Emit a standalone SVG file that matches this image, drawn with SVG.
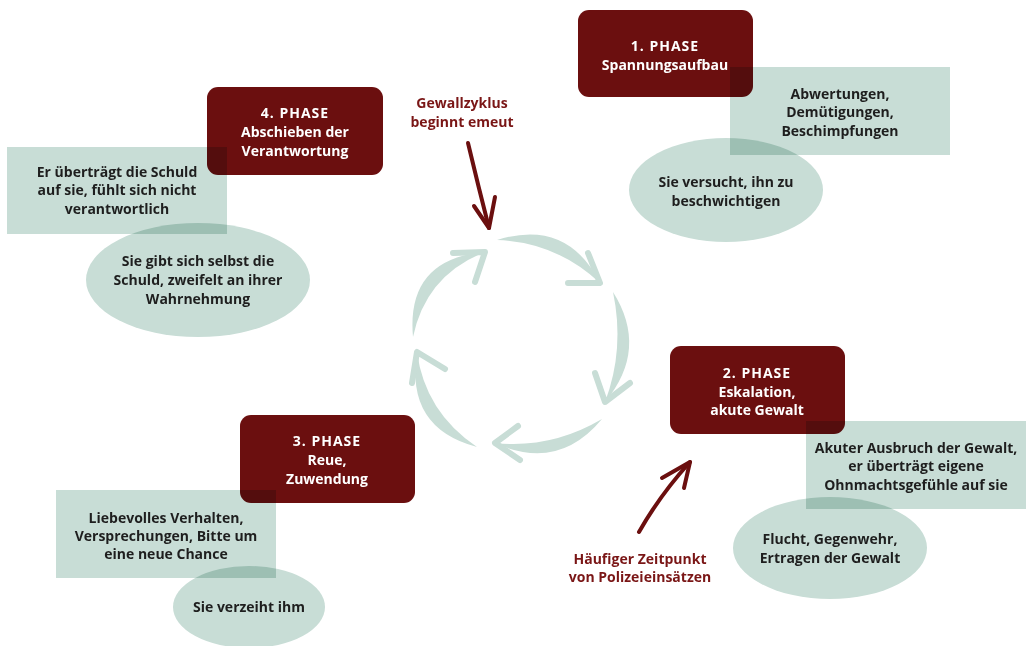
<svg xmlns="http://www.w3.org/2000/svg" width="1031" height="646" viewBox="0 0 1031 646">
<style>
.phase{fill:#6b0f0f}
.ptxt{font-family:"Open Sans","Liberation Sans",sans-serif;font-weight:700;font-size:14px;fill:#ffffff;text-anchor:middle}
.ph{letter-spacing:1px}
.g{fill:#c8ddd6;mix-blend-mode:multiply}
.t{font-family:"Open Sans","Liberation Sans",sans-serif;font-weight:700;font-size:14px;fill:#1e1e1e;text-anchor:middle}
.lbl{font-family:"Open Sans","Liberation Sans",sans-serif;font-weight:700;font-size:14px;fill:#7a1616;text-anchor:middle}
.arc{fill:#c8ddd6}
.head{fill:none;stroke:#c8ddd6;stroke-width:6;stroke-linecap:round;stroke-linejoin:round}
.red{fill:none;stroke:#6b0f0f;stroke-width:4;stroke-linecap:round;stroke-linejoin:round}
</style>
<rect width="1031" height="646" fill="#ffffff"/>

<g id="connectors">
  <path class="arc" d="M497,240 Q567,218 600,283 Q556,242 497,240 Z"/>
  <path class="head" d="M588,253 L600,283 L568,283"/>
  <path class="arc" d="M613,292 Q649,349 605,402 Q625,349 613,292 Z"/>
  <path class="head" d="M595,373 L605,402 L630,383"/>
  <path class="arc" d="M602,419 Q558,472 495,443 Q551,449 602,419 Z"/>
  <path class="head" d="M518,426 L495,443 L520,460"/>
  <path class="arc" d="M477,447 Q405,428 417,352 Q425,412 477,447 Z"/>
  <path class="head" d="M445,369 L417,352 L412,383"/>
  <path class="arc" d="M413,337 Q406,259 485,252 Q426,275 413,337 Z"/>
  <path class="head" d="M453,253 L485,252 L475,282"/>
  <path class="red" d="M468,143 Q478,185 489,228"/>
  <path class="red" d="M474,206 L489,228 L495,197"/>
  <path class="red" d="M639,532 Q660,495 690,462"/>
  <path class="red" d="M662,478 L690,462 L684,488"/>
</g>

<g id="phase1">
  <rect class="phase" x="578" y="10" width="175" height="87" rx="11"/>
  <text class="ptxt ph" x="665" y="51">1. PHASE</text>
  <text class="ptxt" x="665" y="70">Spannungsaufbau</text>
</g>
<g id="note1">
  <rect class="g" x="730" y="67" width="220" height="88"/>
  <text class="t" x="840" y="99">Abwertungen,</text>
  <text class="t" x="840" y="117">Demütigungen,</text>
  <text class="t" x="840" y="136">Beschimpfungen</text>
</g>
<g id="react1">
  <ellipse class="g" cx="726" cy="190" rx="97" ry="52"/>
  <text class="t" x="726" y="187">Sie versucht, ihn zu</text>
  <text class="t" x="726" y="206">beschwichtigen</text>
</g>

<g id="phase2">
  <rect class="phase" x="670" y="346" width="175" height="88" rx="11"/>
  <text class="ptxt ph" x="757" y="378">2. PHASE</text>
  <text class="ptxt" x="757" y="397">Eskalation,</text>
  <text class="ptxt" x="757" y="415">akute Gewalt</text>
</g>
<g id="note2">
  <rect class="g" x="806" y="421" width="220" height="88"/>
  <text class="t" x="916" y="453">Akuter Ausbruch der Gewalt,</text>
  <text class="t" x="916" y="471">er überträgt eigene</text>
  <text class="t" x="916" y="490">Ohnmachtsgefühle auf sie</text>
</g>
<g id="react2">
  <ellipse class="g" cx="830" cy="548" rx="97" ry="51"/>
  <text class="t" x="830" y="544">Flucht, Gegenwehr,</text>
  <text class="t" x="830" y="563">Ertragen der Gewalt</text>
</g>

<g id="phase3">
  <rect class="phase" x="240" y="415" width="175" height="88" rx="11"/>
  <text class="ptxt ph" x="327" y="446">3. PHASE</text>
  <text class="ptxt" x="327" y="465">Reue,</text>
  <text class="ptxt" x="327" y="484">Zuwendung</text>
</g>
<g id="note3">
  <rect class="g" x="56" y="490" width="220" height="88"/>
  <text class="t" x="166" y="523">Liebevolles Verhalten,</text>
  <text class="t" x="166" y="541">Versprechungen, Bitte um</text>
  <text class="t" x="166" y="559">eine neue Chance</text>
</g>
<g id="react3">
  <ellipse class="g" cx="249" cy="607" rx="76" ry="41"/>
  <text class="t" x="249" y="612">Sie verzeiht ihm</text>
</g>

<g id="phase4">
  <rect class="phase" x="207" y="87" width="176" height="88" rx="11"/>
  <text class="ptxt ph" x="295" y="118">4. PHASE</text>
  <text class="ptxt" x="295" y="137">Abschieben der</text>
  <text class="ptxt" x="295" y="156">Verantwortung</text>
</g>
<g id="note4">
  <rect class="g" x="7" y="147" width="220" height="87"/>
  <text class="t" x="117" y="177">Er überträgt die Schuld</text>
  <text class="t" x="117" y="195">auf sie, fühlt sich nicht</text>
  <text class="t" x="117" y="214">verantwortlich</text>
</g>
<g id="react4">
  <ellipse class="g" cx="198" cy="280" rx="112" ry="57"/>
  <text class="t" x="198" y="266">Sie gibt sich selbst die</text>
  <text class="t" x="198" y="285">Schuld, zweifelt an ihrer</text>
  <text class="t" x="198" y="304">Wahrnehmung</text>
</g>

<g id="label-restart">
  <text class="lbl" x="462" y="108">Gewallzyklus</text>
  <text class="lbl" x="462" y="127">beginnt emeut</text>
</g>
<g id="label-police">
  <text class="lbl" x="640" y="564">Häufiger Zeitpunkt</text>
  <text class="lbl" x="640" y="582">von Polizeieinsätzen</text>
</g>
</svg>
